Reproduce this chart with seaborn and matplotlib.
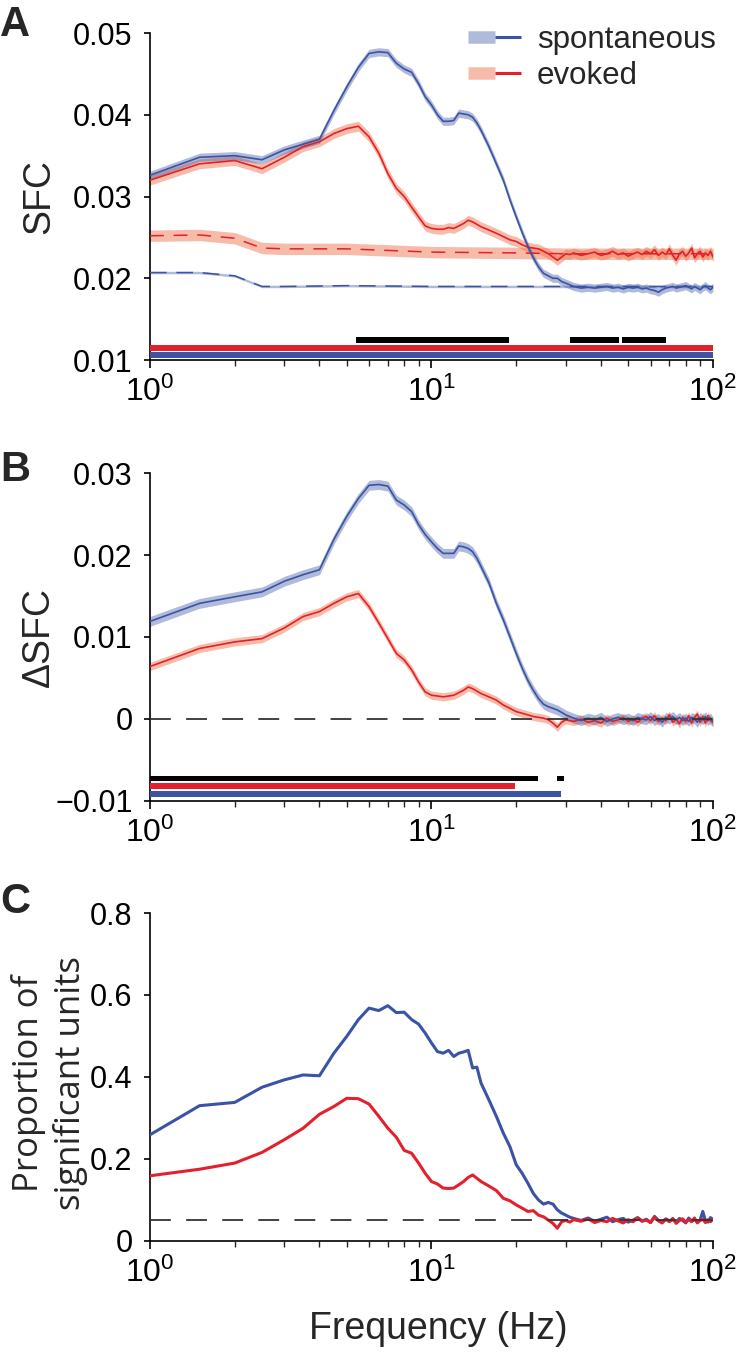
import numpy as np
import matplotlib
matplotlib.use("Agg")
import matplotlib.pyplot as plt
import seaborn as sns
from matplotlib.lines import Line2D
from matplotlib.legend_handler import HandlerTuple
from matplotlib.ticker import LogLocator, NullFormatter

sns.set_style("ticks")
plt.rcParams["font.family"] = ["Liberation Sans", "DejaVu Sans"]
plt.rcParams["mathtext.default"] = "regular"
plt.rcParams["lines.scale_dashes"] = False

BLUE = "#3a53a4"
RED = "#e3202b"
BLUE_BAND = "#3a53a4"
RED_BAND = "#f07a55"

# ---------- data ----------
freqs = [1, 1.5, 2, 2.5, 3, 3.5, 4, 4.5, 5, 5.5, 6, 6.5, 7, 7.5, 8, 8.5, 9, 9.5,
         10, 10.5, 11, 11.5, 12, 12.5, 13, 13.5, 14, 14.5, 15, 16, 17, 18, 19, 20,
         21, 22, 23, 24, 25, 26, 27, 28, 29, 30, 31, 32, 34, 36, 38, 40, 42, 44,
         46, 48, 50, 52, 54, 56, 58, 60, 62, 64, 66, 68, 70, 72, 74, 76, 78, 80,
         82, 84, 86, 88, 90, 92, 94, 96, 98, 100]

# A: spike-field coherence
sfc_spont = [0.0326, 0.0348, 0.0350, 0.0345, 0.0357, 0.0364, 0.0370, 0.0405, 0.0434,
             0.0458, 0.0475, 0.0477, 0.0476, 0.0463, 0.0456, 0.0452, 0.0438, 0.0422,
             0.0412, 0.0400, 0.0392, 0.0392, 0.0393, 0.0402, 0.0401, 0.0400, 0.0397,
             0.0390, 0.0381, 0.0361, 0.0340, 0.0320, 0.0296, 0.0275, 0.0256, 0.0239,
             0.0225, 0.0214, 0.0206, 0.0203, 0.0200, 0.0200, 0.0196, 0.0194, 0.0192,
             0.0190, 0.0188, 0.0189, 0.0188, 0.0189, 0.0190, 0.0188, 0.0189, 0.0187,
             0.0189, 0.0188, 0.0189, 0.0187, 0.0188, 0.0186, 0.0185, 0.0183, 0.0186,
             0.0188, 0.0189, 0.0190, 0.0188, 0.0189, 0.0190, 0.0191, 0.0189, 0.0187,
             0.0190, 0.0188, 0.0186, 0.0189, 0.0191, 0.0188, 0.0186, 0.0189]
sfc_evoked = [0.0320, 0.0340, 0.0344, 0.0334, 0.0348, 0.0361, 0.0367, 0.0377, 0.0383,
              0.0386, 0.0373, 0.0353, 0.0328, 0.0310, 0.0300, 0.0287, 0.0275, 0.0264,
              0.0261, 0.0260, 0.0260, 0.0262, 0.0261, 0.0264, 0.0267, 0.0271, 0.0269,
              0.0266, 0.0263, 0.0259, 0.0255, 0.0251, 0.0247, 0.0245, 0.0241, 0.0238,
              0.0237, 0.0236, 0.0233, 0.0230, 0.0226, 0.0222, 0.0226, 0.0230, 0.0229,
              0.0231, 0.0228, 0.0230, 0.0232, 0.0228, 0.0230, 0.0233, 0.0229, 0.0231,
              0.0227, 0.0230, 0.0232, 0.0229, 0.0233, 0.0230, 0.0235, 0.0228, 0.0232,
              0.0229, 0.0236, 0.0228, 0.0222, 0.0230, 0.0233, 0.0227, 0.0231, 0.0237,
              0.0225, 0.0230, 0.0233, 0.0226, 0.0231, 0.0228, 0.0233, 0.0226]
sem_a_spont = 0.0005
sem_a_evoked = 0.0006

null_freqs = [1, 1.5, 2, 2.5, 3, 5, 10, 20, 30, 50, 100]
null_spont = [0.0207, 0.0207, 0.0203, 0.0190, 0.0190, 0.0191, 0.0190, 0.0190, 0.0190, 0.0190, 0.0190]
null_evoked = [0.0252, 0.0253, 0.0249, 0.0237, 0.0236, 0.0236, 0.0232, 0.0231, 0.0230, 0.0230, 0.0230]
sem_null_spont = 0.00015
sem_null_evoked = 0.0007

# significance bars A: (start, end) in Hz
sig_a_diff = [(5.4, 18.8), (31, 46.5), (47.5, 68)]
sig_a_evoked = [(1, 100)]
sig_a_spont = [(1, 100)]

# B: delta SFC
dsfc_spont = [0.0119, 0.0141, 0.0149, 0.0155, 0.0168, 0.0176, 0.0182, 0.0219, 0.0247,
              0.0269, 0.0285, 0.0286, 0.0284, 0.0267, 0.0261, 0.0253, 0.0237, 0.0225,
              0.0216, 0.0208, 0.0202, 0.0202, 0.0202, 0.0211, 0.0210, 0.0208, 0.0204,
              0.0196, 0.0186, 0.0166, 0.0141, 0.0121, 0.0100, 0.0080, 0.0062, 0.0047,
              0.0035, 0.0025, 0.0018, 0.0015, 0.0013, 0.0011, 0.0008, 0.0005, 0.0003,
              0.0001, -0.0002, 0.0001, -0.0001, 0.0002, -0.0003, 0.0000, 0.0002, -0.0001,
              0.0001, -0.0002, 0.0002, 0.0000, -0.0001, 0.0003, -0.0002, 0.0001, -0.0004,
              0.0002, 0.0000, 0.0003, -0.0001, 0.0002, -0.0002, 0.0001, -0.0003, 0.0002,
              0.0000, -0.0004, 0.0002, -0.0001, 0.0003, -0.0002, 0.0001, -0.0003]
dsfc_evoked = [0.0064, 0.0086, 0.0094, 0.0098, 0.0111, 0.0125, 0.0131, 0.0141, 0.0149,
               0.0153, 0.0137, 0.0117, 0.0098, 0.0080, 0.0072, 0.0060, 0.0045, 0.0033,
               0.0029, 0.0028, 0.0027, 0.0028, 0.0029, 0.0032, 0.0035, 0.0039, 0.0037,
               0.0034, 0.0031, 0.0027, 0.0023, 0.0017, 0.0013, 0.0009, 0.0007, 0.0005,
               0.0003, 0.0002, 0.0001, -0.0001, -0.0005, -0.0010, -0.0004, -0.0001, -0.0002,
               -0.0003, 0.0000, -0.0004, -0.0002, -0.0005, 0.0001, -0.0003, -0.0001, 0.0002,
               -0.0003, 0.0000, -0.0004, 0.0001, 0.0003, -0.0002, 0.0004, -0.0003, 0.0001,
               -0.0002, 0.0005, -0.0004, 0.0000, -0.0006, 0.0002, -0.0003, 0.0004, -0.0005,
               0.0002, 0.0006, -0.0004, 0.0003, -0.0005, 0.0004, -0.0002, -0.0004]
sem_b_spont = 0.0006
sem_b_evoked = 0.0005

sig_b_diff = [(1, 23.9), (28.0, 29.5)]
sig_b_evoked = [(1, 19.8)]
sig_b_spont = [(1, 28.8)]

# C: proportion of significant units
prop_spont = [0.259, 0.330, 0.338, 0.375, 0.393, 0.405, 0.403, 0.458, 0.499, 0.540,
              0.568, 0.562, 0.574, 0.557, 0.558, 0.540, 0.529, 0.507, 0.483, 0.462,
              0.458, 0.465, 0.450, 0.458, 0.461, 0.465, 0.422, 0.424, 0.385, 0.344,
              0.304, 0.263, 0.230, 0.186, 0.165, 0.141, 0.116, 0.100, 0.090, 0.094,
              0.090, 0.076, 0.068, 0.063, 0.058, 0.055, 0.050, 0.056, 0.048, 0.053,
              0.058, 0.047, 0.052, 0.055, 0.046, 0.051, 0.057, 0.049, 0.053, 0.045,
              0.060, 0.050, 0.047, 0.054, 0.049, 0.052, 0.046, 0.055, 0.050, 0.044,
              0.056, 0.049, 0.052, 0.047, 0.051, 0.072, 0.050, 0.046, 0.057, 0.052]
prop_evoked = [0.159, 0.175, 0.190, 0.216, 0.247, 0.275, 0.309, 0.328, 0.348, 0.347,
               0.334, 0.304, 0.275, 0.253, 0.221, 0.214, 0.190, 0.165, 0.145, 0.139,
               0.129, 0.128, 0.129, 0.137, 0.145, 0.155, 0.161, 0.153, 0.145, 0.134,
               0.123, 0.104, 0.098, 0.088, 0.080, 0.072, 0.074, 0.063, 0.059, 0.051,
               0.043, 0.031, 0.047, 0.050, 0.046, 0.052, 0.048, 0.054, 0.045, 0.050,
               0.047, 0.055, 0.049, 0.044, 0.052, 0.047, 0.056, 0.048, 0.051, 0.045,
               0.058, 0.049, 0.044, 0.053, 0.047, 0.055, 0.043, 0.050, 0.054, 0.046,
               0.052, 0.047, 0.056, 0.044, 0.050, 0.053, 0.045, 0.052, 0.047, 0.053]
chance_level = 0.05

f = np.array(freqs)


def style_axis(ax, ylim, yticks, yticklabels):
    ax.set_xscale("log")
    ax.set_xlim(1, 100)
    ax.set_ylim(*ylim)
    ax.set_yticks(yticks)
    ax.set_yticklabels(yticklabels)
    ax.xaxis.set_major_locator(LogLocator(base=10, numticks=5))
    ax.xaxis.set_minor_locator(LogLocator(base=10, subs=np.arange(2, 10), numticks=20))
    ax.xaxis.set_minor_formatter(NullFormatter())
    sns.despine(ax=ax)
    for s in ["left", "bottom"]:
        ax.spines[s].set_linewidth(1.2)
        ax.spines[s].set_color("black")
    ax.tick_params(axis="y", which="major", direction="out", length=4.5, width=1.2,
                   labelsize=22, pad=8, colors="black")
    ax.tick_params(axis="x", which="major", direction="out", length=6, width=1.2,
                   labelsize=23, pad=6, colors="black")
    ax.tick_params(axis="x", which="minor", direction="out", length=4.5, width=1.0)


def sig_bars(ax, spans, y0, y1, color):
    for a, b in spans:
        ax.barh((y0 + y1) / 2, b - a, left=a, height=y1 - y0, color=color,
                edgecolor="none", zorder=5)


def mean_band(ax, vals, sem, line_color, band_color, band_alpha, lw):
    v = np.array(vals)
    ax.fill_between(f, v - sem, v + sem, color=band_color, alpha=band_alpha,
                    linewidth=0, zorder=2)
    sns.lineplot(x=f, y=v, ax=ax, color=line_color, lw=lw, estimator=None,
                 sort=False, zorder=4)


fig = plt.figure(figsize=(7.37, 13.53), dpi=100)
left, width = 0.2035, 0.7639
axA = fig.add_axes([left, 0.7339, width, 0.2417])
axB = fig.add_axes([left, 0.4080, width, 0.2424])
axC = fig.add_axes([left, 0.0828, width, 0.2424])

# ---------- A ----------
nf = np.array(null_freqs)
ns = np.array(null_spont)
ne = np.array(null_evoked)
axA.fill_between(nf, ne - sem_null_evoked, ne + sem_null_evoked, color=RED_BAND,
                 alpha=0.5, linewidth=0, zorder=1)
axA.fill_between(nf, ns - sem_null_spont, ns + sem_null_spont, color=BLUE_BAND,
                 alpha=0.4, linewidth=0, zorder=1)
axA.plot(nf, ne, color=RED, lw=1.1, linestyle=(0, (10, 7)), zorder=3)
axA.plot(nf, ns, color=BLUE, lw=1.1, linestyle=(0, (12, 7)), zorder=3)
mean_band(axA, sfc_evoked, sem_a_evoked, RED, RED_BAND, 0.5, 1.2)
mean_band(axA, sfc_spont, sem_a_spont, BLUE, BLUE_BAND, 0.4, 1.2)
sig_bars(axA, sig_a_diff, 0.01208, 0.01281, "black")
sig_bars(axA, sig_a_evoked, 0.01110, 0.01183, RED)
sig_bars(axA, sig_a_spont, 0.01024, 0.01098, BLUE)
style_axis(axA, (0.01, 0.05), [0.01, 0.02, 0.03, 0.04, 0.05],
           ["0.01", "0.02", "0.03", "0.04", "0.05"])
axA.set_xlabel("")
axA.set_ylabel("SFC", fontsize=27)
axA.yaxis.set_label_coords(-0.165, 0.5)

h_sp = (Line2D([], [], color=BLUE_BAND, alpha=0.4, lw=9, solid_capstyle="butt"),
        Line2D([], [], color=BLUE, lw=2.2, solid_capstyle="butt"))
h_ev = (Line2D([], [], color=RED_BAND, alpha=0.5, lw=9, solid_capstyle="butt"),
        Line2D([], [], color=RED, lw=2.2, solid_capstyle="butt"))
axA.legend([h_sp, h_ev], ["spontaneous", "evoked"],
           handler_map={tuple: HandlerTuple(ndivide=None)},
           loc="upper right", bbox_to_anchor=(1.005, 1.025), frameon=False,
           fontsize=22.5, handlelength=1.7, handletextpad=0.5, labelspacing=0.2,
           borderpad=0, borderaxespad=0)

# ---------- B ----------
mean_band(axB, dsfc_evoked, sem_b_evoked, RED, RED_BAND, 0.5, 1.2)
mean_band(axB, dsfc_spont, sem_b_spont, BLUE, BLUE_BAND, 0.4, 1.2)
axB.axhline(0, color="#333333", lw=1.3, linestyle=(0, (15, 11)), zorder=6)
sig_bars(axB, sig_b_diff, -0.00756, -0.00695, "black")
sig_bars(axB, sig_b_evoked, -0.00854, -0.00780, RED)
sig_bars(axB, sig_b_spont, -0.00951, -0.00878, BLUE)
style_axis(axB, (-0.01, 0.03), [-0.01, 0, 0.01, 0.02, 0.03],
           ["\u22120.01", "0", "0.01", "0.02", "0.03"])
axB.set_xlabel("")
axB.set_ylabel("\u0394SFC", fontsize=27)
axB.yaxis.set_label_coords(-0.165, 0.5)

# ---------- C ----------
sns.lineplot(x=f, y=prop_spont, ax=axC, color=BLUE, lw=2.2, estimator=None, sort=False, zorder=3)
sns.lineplot(x=f, y=prop_evoked, ax=axC, color=RED, lw=2.2, estimator=None, sort=False, zorder=4)
axC.axhline(chance_level, color="#333333", lw=1.3, linestyle=(0, (15, 11)), zorder=6)
style_axis(axC, (0, 0.8), [0, 0.2, 0.4, 0.6, 0.8], ["0", "0.2", "0.4", "0.6", "0.8"])
axC.set_ylabel("Proportion of\nsignificant units", fontsize=25,
               family=["Open Sans", "DejaVu Sans"], linespacing=1.25)
axC.yaxis.set_label_coords(-0.11, 0.48)
axC.set_xlabel("Frequency (Hz)", fontsize=27)
axC.xaxis.set_label_coords(0.513, -0.215)

# panel letters
for y, lab in [(0.9963, "A"), (0.6674, "B"), (0.3481, "C")]:
    fig.text(0.0, y, lab, fontsize=30, fontweight="bold", va="top", ha="left")

fig.savefig("out.png", dpi=100)
